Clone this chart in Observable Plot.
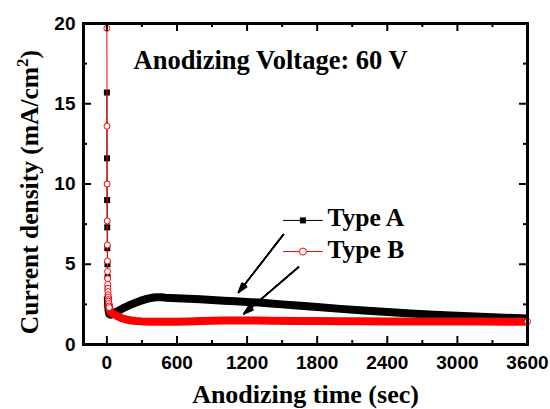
<!DOCTYPE html>
<html>
<head>
<meta charset="utf-8">
<script src="https://cdn.jsdelivr.net/npm/d3@7"></script>
<script src="https://cdn.jsdelivr.net/npm/@observablehq/plot@0.6"></script>
<style>
  html, body { margin: 0; padding: 0; background: #fff; }
  #chart svg { display: block; }
</style>
</head>
<body>
<div id="chart"></div>
<script>
// ---- Data ----
const typeA_t = [0,1,2,3,4,5,6,7,8,10,15,20,30,45,60,100,150,200,250,300,350,400,430,470,500,600,700,800,900,1000,1100,1200,1300,1400,1500,1600,1800,2000,2200,2400,2600,2800,3000,3200,3400,3600];
const typeA_v = [15.7,11.6,9.0,7.3,6.0,5.0,4.2,3.5,3.0,2.5,2.1,1.9,1.85,1.9,1.97,2.1,2.3,2.47,2.62,2.75,2.86,2.93,2.95,2.94,2.92,2.88,2.85,2.82,2.78,2.73,2.69,2.65,2.61,2.55,2.5,2.44,2.33,2.22,2.12,2.02,1.93,1.86,1.79,1.73,1.67,1.62];

const typeB_t = [0,1,2,3,4,5,6,7,8,9,10,11,12,13,14,16,18,20,25,30,50,80,120,160,200,250,300,400,500,600,700,800,900,1000,1100,1200,1300,1400,1600,1800,2000,2200,2400,2600,2800,3000,3200,3400,3600];
const typeB_v = [19.7,13.6,10.0,7.7,6.2,5.2,4.55,4.1,3.75,3.5,3.3,3.1,2.95,2.8,2.7,2.55,2.4,2.3,2.15,2.05,1.92,1.8,1.66,1.57,1.51,1.47,1.44,1.42,1.41,1.42,1.44,1.46,1.48,1.49,1.5,1.5,1.49,1.48,1.47,1.46,1.45,1.45,1.44,1.44,1.44,1.43,1.43,1.42,1.42];

const xTicks = [0,600,1200,1800,2400,3000,3600];
const xMinor = [300,900,1500,2100,2700,3300];
const yTicks = [0,5,10,15,20];
const yMinor = [2.5,7.5,12.5,17.5];

const seriesNames = ["Type A", "Type B"];
const annotationText = "Anodizing Voltage: 60 V";
const xTitle = "Anodizing time (sec)";
const yTitle = "Current density (mA/cm2)";

// ---- Build tables ----
const A = typeA_t.map((t, i) => ({t, v: typeA_v[i]}));
const B = typeB_t.map((t, i) => ({t, v: typeB_v[i]}));
const Aspike = A.filter(d => d.t <= 10);
const Aband = A.filter(d => d.t >= 8);
const Bspike = B.filter(d => d.t <= 20);
const Bband = B.filter(d => d.t >= 16);

// arrows in data units
const arrows = [
  {x1: 1511, y1: 6.85, x2: 1126, y2: 3.24},
  {x1: 1640, y1: 4.82, x2: 1172, y2: 1.91}
];
// legend sample positions in data units
const legendA = [{t: 1511, v: 7.73}, {t: 1845, v: 7.73}];
const legendB = [{t: 1511, v: 5.79}, {t: 1845, v: 5.79}];

const W = 550, H = 409;
const mL = 83, mR = 23, mT = 23, mB = 65;
const fw = W - mL - mR, fh = H - mT - mB;
const major = 8, minor = 4;

const serif = "Liberation Serif, Times New Roman, serif";
const sans = "Liberation Sans, Arial, sans-serif";

const arrowMarks = [12, 20, 28, 36].map(a =>
  Plot.arrow(arrows, {x1: "x1", y1: "y1", x2: "x2", y2: "y2", stroke: "black", strokeWidth: 1.5, headLength: 10, headAngle: a})
);

const chart = Plot.plot({
  width: W, height: H,
  marginLeft: mL, marginRight: mR, marginTop: mT, marginBottom: mB,
  style: {fontFamily: sans, background: "#fff"},
  x: {domain: [-200, 3600], label: null},
  y: {domain: [0, 20], label: null},
  marks: [
    // series A
    Plot.line(Aband, {x: "t", y: "v", stroke: "black", strokeWidth: 8, strokeLinejoin: "round", strokeLinecap: "butt"}),
    Plot.line(A, {x: "t", y: "v", stroke: "black", strokeWidth: 1}),
    Plot.dot(Aspike, {x: "t", y: "v", symbol: "square", r: 3.4, fill: "black", stroke: "none"}),
    // series B
    Plot.line(Bband, {x: "t", y: "v", stroke: "#ff0000", strokeWidth: 8, strokeLinejoin: "round", strokeLinecap: "butt"}),
    Plot.line(B, {x: "t", y: "v", stroke: "#ff0000", strokeWidth: 1}),
    Plot.dot(Bspike, {x: "t", y: "v", r: 3, fill: "white", stroke: "#ff0000", strokeWidth: 1}),
    Plot.dot(B.slice(-1), {x: "t", y: "v", r: 3, fill: "white", stroke: "#ff0000", strokeWidth: 1}),
    // arrows
    ...arrowMarks,
    // legend
    Plot.line(legendA, {x: "t", y: "v", stroke: "black", strokeWidth: 1}),
    Plot.dot([legendA[0]], {x: () => (legendA[0].t + legendA[1].t) / 2, y: "v", symbol: "square", r: 3.4, fill: "black"}),
    Plot.line(legendB, {x: "t", y: "v", stroke: "#ff0000", strokeWidth: 1}),
    Plot.dot([legendB[0]], {x: () => (legendB[0].t + legendB[1].t) / 2, y: "v", r: 3.5, fill: "white", stroke: "#ff0000", strokeWidth: 1}),
    Plot.text([seriesNames[0]], {text: d => d, frameAnchor: "top-left", dx: 244, dy: 202, textAnchor: "start", lineAnchor: "bottom", fontFamily: serif, fontWeight: "bold", fontSize: 25.5, fill: "black"}),
    Plot.text([seriesNames[1]], {text: d => d, frameAnchor: "top-left", dx: 244, dy: 234, textAnchor: "start", lineAnchor: "bottom", fontFamily: serif, fontWeight: "bold", fontSize: 25.5, fill: "black"}),
    // annotation
    Plot.text([annotationText], {text: d => d, frameAnchor: "top-left", dx: 50, dy: 45, textAnchor: "start", lineAnchor: "bottom", fontFamily: serif, fontWeight: "bold", fontSize: 26.5, fill: "black"}),
    // ticks (inward)
    Plot.ruleX(xTicks, {x: d => d, insetTop: fh - major, stroke: "black", strokeWidth: 2}),
    Plot.ruleX(xMinor, {x: d => d, insetTop: fh - minor, stroke: "black", strokeWidth: 2}),
    Plot.ruleX(xTicks, {x: d => d, insetBottom: fh - major, stroke: "black", strokeWidth: 2}),
    Plot.ruleX(xMinor, {x: d => d, insetBottom: fh - minor, stroke: "black", strokeWidth: 2}),
    Plot.ruleY(yTicks, {y: d => d, insetRight: fw - major, stroke: "black", strokeWidth: 2}),
    Plot.ruleY(yMinor, {y: d => d, insetRight: fw - minor, stroke: "black", strokeWidth: 2}),
    Plot.ruleY(yTicks, {y: d => d, insetLeft: fw - major, stroke: "black", strokeWidth: 2}),
    Plot.ruleY(yMinor, {y: d => d, insetLeft: fw - minor, stroke: "black", strokeWidth: 2}),
    // axes labels
    Plot.axisX({ticks: xTicks, tickSize: 0, tickPadding: 11, tickFormat: d => String(d), fontSize: 19, fontWeight: "bold", fontFamily: sans, fill: "black", label: null}),
    Plot.axisY({ticks: yTicks, tickSize: 0, tickPadding: 8, tickFormat: d => String(d), fontSize: 19, fontWeight: "bold", fontFamily: sans, fill: "black", label: null}),
    // axis titles
    Plot.text([xTitle], {text: d => d, frameAnchor: "bottom", dy: 58, textAnchor: "middle", lineAnchor: "bottom", fontFamily: serif, fontWeight: "bold", fontSize: 26, fill: "black"}),
    Plot.text([yTitle], {text: d => d, frameAnchor: "left", dx: -46, dy: 8, rotate: -90, textAnchor: "middle", lineAnchor: "bottom", fontFamily: serif, fontWeight: "bold", fontSize: 25.5, fill: "black"}),
    Plot.frame({stroke: "black", strokeWidth: 3})
  ]
});
// render the "2" in cm2 as a superscript
chart.querySelectorAll("text").forEach(t => {
  if (t.textContent === yTitle) {
    const ns = "http://www.w3.org/2000/svg";
    t.textContent = "";
    const a = document.createElementNS(ns, "tspan");
    a.textContent = "Current density (mA/cm";
    const s = document.createElementNS(ns, "tspan");
    s.textContent = "2";
    s.setAttribute("font-size", "17");
    s.setAttribute("dy", "-10");
    const c = document.createElementNS(ns, "tspan");
    c.textContent = ")";
    c.setAttribute("dy", "10");
    t.appendChild(a); t.appendChild(s); t.appendChild(c);
  }
});
document.getElementById("chart").appendChild(chart);
</script>
</body>
</html>
